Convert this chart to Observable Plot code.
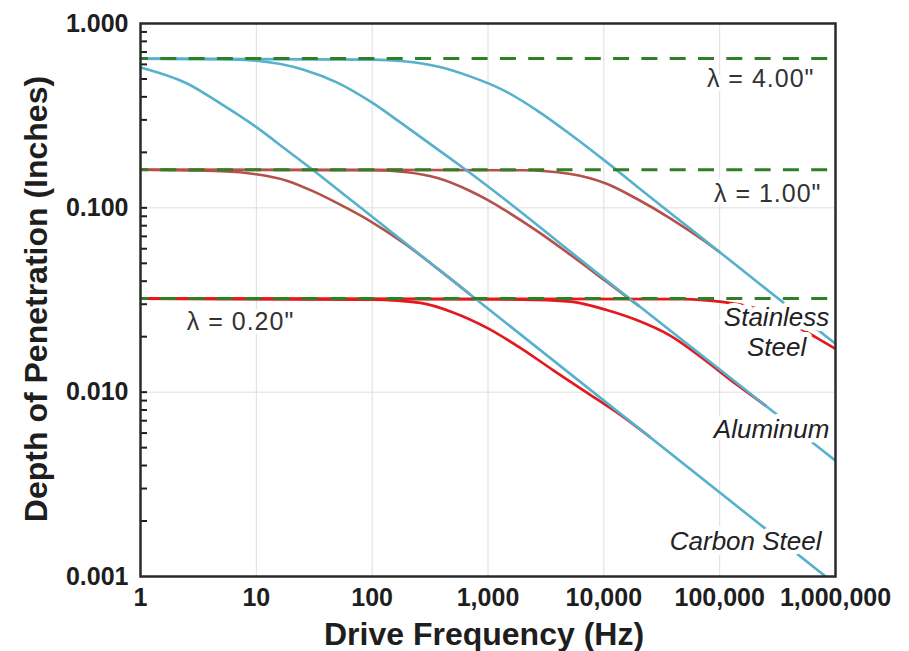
<!DOCTYPE html>
<html><head><meta charset="utf-8">
<script src="https://cdn.jsdelivr.net/npm/d3@7"></script>
<script src="https://cdn.jsdelivr.net/npm/@observablehq/plot@0.6"></script>
<style>
html,body{margin:0;padding:0;background:#fff;}
</style>
</head><body><div id="chart"></div>
<script>
// Axis ticks
const xTicks = [1, 10, 100, 1000, 10000, 100000, 1000000];
const xTickLabels = ["1", "10", "100", "1,000", "10,000", "100,000", "1,000,000"];
const yTicks = [1, 0.1, 0.01, 0.001];
const yTickLabels = ["1.000", "0.100", "0.010", "0.001"];
const yMinorTicks = [0.002, 0.003, 0.004, 0.005, 0.006, 0.007, 0.008, 0.009,
  0.01, 0.02, 0.03, 0.04, 0.05, 0.06, 0.07, 0.08, 0.09,
  0.1, 0.2, 0.3, 0.4, 0.5, 0.6, 0.7, 0.8, 0.9];
const xGrid = [10, 100, 1000, 10000, 100000];
const yGrid = [0.1, 0.01];

// Wavelength saturation depths (dashed lines) and their labels
const lambdaDepth = [0.645, 0.161, 0.0322];
const lambdaLabels = ["λ = 4.00\"", "λ = 1.00\"", "λ = 0.20\""];
const lambdaLabelF = [226000, 260000, 7.3];
const lambdaLabelD = [0.503, 0.1188, 0.0241];

// Material labels
const materialLabels = ["Stainless", "Steel", "Aluminum", "Carbon Steel"];
const materialLabelF = [310000, 310000, 281000, 167600];
const materialLabelD = [0.0254, 0.01735, 0.00627, 0.001546];

// λ = 4.00" curves (cyan)
const carbon4F = [1, 2.5, 5, 10, 18.6, 31.8, 50, 100, 822000];
const carbon4D = [0.578, 0.474, 0.365, 0.274, 0.204, 0.158, 0.1262, 0.0895, 0.001];
const alum4F = [1, 5, 10, 26, 50, 100, 190, 370, 670, 10000, 1000000];
const alum4D = [0.645, 0.64, 0.628, 0.56, 0.478, 0.372, 0.28, 0.207, 0.158, 0.0415, 0.00425];
const stain4F = [1, 100, 187, 367, 708, 1365, 2680, 5165, 10570, 19200, 37700, 72800, 140000, 310000, 1000000];
const stain4D = [0.645, 0.637, 0.624, 0.584, 0.515, 0.434, 0.336, 0.25, 0.177, 0.131, 0.0935, 0.0675, 0.0486, 0.0327, 0.0183];

// λ = 1.00" curves (brown)
const carbon1F = [1, 5, 10, 18.6, 31.8, 50, 100, 187, 367, 700];
const carbon1D = [0.161, 0.158, 0.152, 0.14, 0.122, 0.106, 0.0835, 0.0645, 0.0468, 0.0339];
const alum1F = [1, 100, 200, 367, 708, 1000, 1365, 2680, 5165, 10570, 20000];
const alum1D = [0.161, 0.16, 0.156, 0.145, 0.123, 0.11, 0.098, 0.0745, 0.0555, 0.0397, 0.0294];
const stain1F = [1, 2000, 5000, 10570, 19200, 37700, 72800, 100000];
const stain1D = [0.161, 0.16, 0.153, 0.135, 0.112, 0.0875, 0.0665, 0.0575];

// λ = 0.20" curves (red)
const carbon02F = [1, 100, 261, 506, 1000, 1900, 3690, 7200, 14000, 25000];
const carbon02D = [0.0322, 0.0318, 0.0305, 0.027, 0.0222, 0.0174, 0.0131, 0.0099, 0.0075, 0.00571];
const alum02F = [1, 2000, 5165, 10570, 19200, 37700, 72800, 140000, 250000];
const alum02D = [0.0322, 0.0318, 0.031, 0.0279, 0.0246, 0.0202, 0.0151, 0.0110, 0.00844];
const stain02F = [1, 50000, 100000, 161000, 240000, 400000, 689000, 1000000];
const stain02D = [0.0322, 0.032, 0.031, 0.0296, 0.0276, 0.0238, 0.0197, 0.0172];

const cyan = "#55b1cc", brown = "#b5514d", red = "#e3191f", green = "#2f7f25", ink = "#1e1e1e";

function rows(id, F, D) { return F.map((f, i) => ({id, f, d: D[i]})); }
const curves4 = [...rows("c4", carbon4F, carbon4D), ...rows("a4", alum4F, alum4D), ...rows("s4", stain4F, stain4D)];
const curves1 = [...rows("c1", carbon1F, carbon1D), ...rows("a1", alum1F, alum1D), ...rows("s1", stain1F, stain1D)];
const curves02 = [...rows("c02", carbon02F, carbon02D), ...rows("a02", alum02F, alum02D), ...rows("s02", stain02F, stain02D)];
const lambdaText = lambdaLabels.map((t, i) => ({t, f: lambdaLabelF[i], d: lambdaLabelD[i]}));
const materialText = materialLabels.map((t, i) => ({t, f: materialLabelF[i], d: materialLabelD[i]}));

const font = "'Liberation Sans', Arial, Helvetica, sans-serif";
const lineOpts = {x: "f", y: "d", z: "id", strokeWidth: 2.6, curve: "monotone-x", clip: true};

const chart = Plot.plot({
  width: 909, height: 651,
  marginLeft: 140, marginRight: 74, marginTop: 23, marginBottom: 75,
  x: {type: "log", domain: [1, 1000000]},
  y: {type: "log", domain: [0.001, 1]},
  style: {fontFamily: font, background: "white", color: ink},
  marks: [
    Plot.ruleX(xGrid, {stroke: "#dedede", strokeWidth: 1}),
    Plot.ruleY(yGrid, {stroke: "#dedede", strokeWidth: 1}),
    Plot.line(curves1, {...lineOpts, stroke: brown}),
    Plot.line(curves02, {...lineOpts, stroke: red, strokeWidth: 2.7}),
    Plot.line(curves4, {...lineOpts, stroke: cyan}),
    Plot.ruleY(lambdaDepth, {stroke: green, strokeWidth: 3, strokeDasharray: "16,12.3", strokeDashoffset: 8}),
    Plot.text(lambdaText, {x: "f", y: "d", text: "t", fontSize: 25, fill: "#333", stroke: "white", strokeWidth: 8, className: "lam"}),
    Plot.text(materialText, {x: "f", y: "d", text: "t", fontSize: 26, fontStyle: "italic", fill: "#222", stroke: "white", strokeWidth: 10}),
    Plot.tickY(yMinorTicks, {y: d => d, stroke: ink, strokeWidth: 2, insetRight: 688}),
    Plot.frame({stroke: "#2a2a2a", strokeWidth: 2.5}),
    Plot.axisX(xTicks, {tickSize: 0, tickPadding: 12, fontSize: 25, fontWeight: "bold", label: null,
      tickFormat: d => xTickLabels[xTicks.indexOf(d)]}),
    Plot.axisY(yTicks, {tickSize: 0, tickPadding: 12, fontSize: 25, fontWeight: "bold", label: null,
      tickFormat: d => yTickLabels[yTicks.indexOf(d)]}),
    Plot.text(["Drive Frequency (Hz)"], {frameAnchor: "bottom", lineAnchor: "middle", textAnchor: "middle", dy: 58, dx: -4, fontSize: 32, fontWeight: "bold", fill: ink}),
    Plot.text(["Depth of Penetration (Inches)"], {frameAnchor: "left", lineAnchor: "middle", textAnchor: "middle", dx: -104, dy: -1, rotate: -90, fontSize: 32, fontWeight: "bold", fill: ink})
  ]
});
document.getElementById("chart").appendChild(chart);
d3.select(chart).selectAll("g.lam text").style("letter-spacing", "1px");
</script>
</body></html>
